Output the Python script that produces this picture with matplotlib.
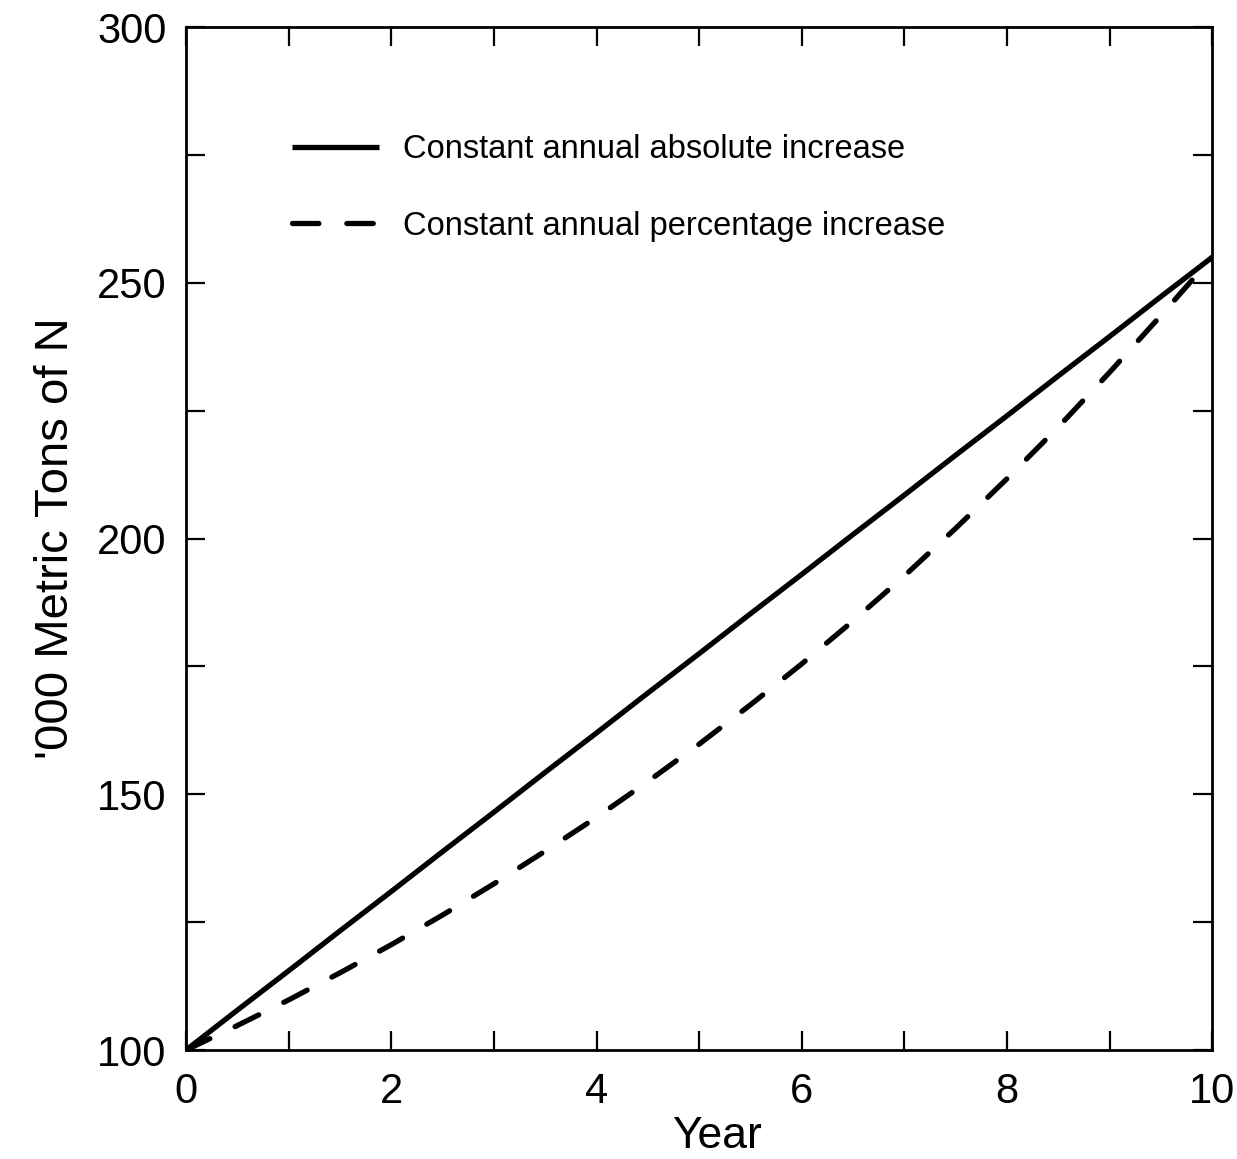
import matplotlib
matplotlib.use("Agg")
import matplotlib.pyplot as plt
from matplotlib.ticker import MultipleLocator

plt.rcParams['font.family'] = ['Liberation Sans', 'DejaVu Sans']

# Nitrogen supply projections ('000 metric tons of N) by year
years = [0, 0.5, 1, 1.5, 2, 2.5, 3, 3.5, 4, 4.5, 5, 5.5, 6, 6.5, 7, 7.5, 8, 8.5, 9, 9.5, 10]
absolute_increase = [100, 107.8, 115.5, 123.3, 131, 138.8, 146.5, 154.3, 162, 169.8, 177.5,
                     185.3, 193, 200.8, 208.5, 216.3, 224, 231.8, 239.5, 247.3, 255]
percentage_increase = [100, 104.8, 109.8, 115.1, 120.6, 126.4, 132.5, 138.9, 145.5, 152.5, 159.8,
                       167.5, 175.5, 183.9, 192.7, 202.0, 211.7, 221.8, 232.5, 243.6, 255]

series_labels = ["Constant annual absolute increase", "Constant annual percentage increase"]
x_ticks = [0, 2, 4, 6, 8, 10]
y_ticks = [100, 150, 200, 250, 300]

fig = plt.figure(figsize=(12.37, 11.59), dpi=100)
ax = fig.add_axes([0.1504, 0.094, 0.8296, 0.8827])

ax.plot(years, absolute_increase, color='black', lw=3.8, solid_capstyle='butt',
        label=series_labels[0])
ax.plot(years, percentage_increase, color='black', lw=3.8, dashes=(5.0, 5.3),
        dash_capstyle='round', label=series_labels[1])

ax.set_xlim(0, 10)
ax.set_ylim(100, 300)
ax.set_xticks(x_ticks)
ax.set_yticks(y_ticks)
ax.xaxis.set_minor_locator(MultipleLocator(1))
ax.yaxis.set_minor_locator(MultipleLocator(25))

ax.tick_params(which='both', direction='in', top=True, right=True,
               length=14, width=1.6, labelsize=30, pad=14)
ax.tick_params(axis='x', pad=16)
for s in ax.spines.values():
    s.set_linewidth(2.0)

ax.set_xlabel("Year", fontsize=32, labelpad=2)
ax.xaxis.set_label_coords(0.517, -0.064)
ax.set_ylabel("'000 Metric Tons of N", fontsize=34, labelpad=14)

leg = ax.legend(loc='upper left', bbox_to_anchor=(0.075, 0.924), frameon=False,
                fontsize=23.5, handlelength=2.64, handletextpad=0.74, labelspacing=1.4)

fig.savefig("out.png", dpi=100)
